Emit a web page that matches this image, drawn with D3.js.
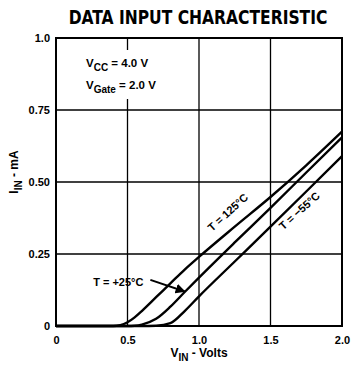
<!DOCTYPE html>
<html><head><meta charset="utf-8">
<script src="https://cdn.jsdelivr.net/npm/d3@7"></script>
<style>body{margin:0;background:#fff}svg{display:block}</style>
</head><body>
<script>
const title = "DATA INPUT CHARACTERISTIC";
const xTicks = [0, 0.5, 1.0, 1.5, 2.0];
const xTickLabels = ["0", "0.5", "1.0", "1.5", "2.0"];
const yTicks = [0, 0.25, 0.5, 0.75, 1.0];
const yTickLabels = ["0", "0.25", "0.50", "0.75", "1.0"];
const vin = [0, 0.4, 0.45, 0.5, 0.55, 0.6, 0.7, 0.8, 0.9, 1.0, 1.25, 1.5, 1.75, 2.0];
const i125 = [0, 0, 0.003, 0.013, 0.03, 0.052, 0.1, 0.148, 0.196, 0.24, 0.345, 0.448, 0.558, 0.675];
const i25 = [0, 0, 0, 0, 0.001, 0.005, 0.025, 0.067, 0.118, 0.168, 0.29, 0.41, 0.533, 0.655];
const im55 = [0, 0, 0, 0, 0, 0, 0.001, 0.01, 0.052, 0.103, 0.224, 0.345, 0.467, 0.59];

const W = 352, H = 371;
const svg = d3.select("body").append("svg").attr("width", W).attr("height", H);
const x = d3.scaleLinear().domain([0, 2]).range([56, 342]);
const y = d3.scaleLinear().domain([0, 1]).range([326, 38]);
const font = "'Liberation Sans', Arial, sans-serif";

// title (condensed by horizontal scale to fit the reference width)
const tt = svg.append("text").attr("text-anchor", "middle")
  .attr("font-family", "'DejaVu Sans Condensed', 'Liberation Sans Narrow', sans-serif")
  .attr("font-weight", "bold").attr("font-size", 19.5)
  .text(title);
const nat = tt.node().getComputedTextLength();
tt.attr("transform", `translate(198,24) scale(${259 / nat},1)`);

// grid
const g = svg.append("g");
xTicks.slice(1, -1).forEach(v => {
  if (v === 0.5) {
    g.append("line").attr("x1", x(v)).attr("x2", x(v)).attr("y1", y(1)).attr("y2", 50).attr("stroke", "#000").attr("stroke-width", 1.3);
    g.append("line").attr("x1", x(v)).attr("x2", x(v)).attr("y1", 99).attr("y2", y(0)).attr("stroke", "#000").attr("stroke-width", 1.3);
  } else {
    g.append("line").attr("x1", x(v)).attr("x2", x(v)).attr("y1", y(1)).attr("y2", y(0)).attr("stroke", "#000").attr("stroke-width", 1.3);
  }
});
yTicks.slice(1, -1).forEach(v => {
  g.append("line").attr("x1", x(0)).attr("x2", x(2)).attr("y1", y(v)).attr("y2", y(v)).attr("stroke", "#000").attr("stroke-width", 1.3);
});
g.append("rect").attr("x", x(0)).attr("y", y(1)).attr("width", x(2) - x(0)).attr("height", y(0) - y(1))
  .attr("fill", "none").attr("stroke", "#000").attr("stroke-width", 2);

// axes tick labels
const xAxis = d3.axisBottom(x).tickValues(xTicks).tickSize(0).tickPadding(10)
  .tickFormat((d, i) => xTickLabels[i]);
const xa = svg.append("g").attr("transform", `translate(0,${y(0)})`).call(xAxis);
xa.select(".domain").remove();
xa.selectAll("text").attr("font-family", font).attr("font-weight", "bold").attr("font-size", 11).attr("fill", "#000");

const yAxis = d3.axisLeft(y).tickValues(yTicks).tickSize(0).tickPadding(6)
  .tickFormat((d, i) => yTickLabels[i]);
const ya = svg.append("g").attr("transform", `translate(${x(0)},0)`).call(yAxis);
ya.select(".domain").remove();
ya.selectAll("text").attr("font-family", font).attr("font-weight", "bold").attr("font-size", 11).attr("fill", "#000");

// curves
const line = d3.line().x(d => x(d[0])).y(d => y(d[1])).curve(d3.curveMonotoneX);
[i125, i25, im55].forEach(s => {
  svg.append("path").attr("d", line(vin.map((v, i) => [v, s[i]])))
    .attr("fill", "none").attr("stroke", "#000").attr("stroke-width", 2.4);
});

// annotations
function sub(t, main, subTxt, rest) {
  t.append("tspan").text(main);
  t.append("tspan").attr("dy", 4).attr("font-size", 10).text(subTxt);
  t.append("tspan").attr("dy", -4).text(rest);
}
const t1 = svg.append("text").attr("x", 86).attr("y", 67).attr("font-family", font).attr("font-weight", "bold").attr("font-size", 11.5);
sub(t1, "V", "CC", " = 4.0 V");
const t2 = svg.append("text").attr("x", 86).attr("y", 89).attr("font-family", font).attr("font-weight", "bold").attr("font-size", 11.5);
sub(t2, "V", "Gate", " = 2.0 V");

const ang = -Math.atan((y(0) - y(0.45)) / (x(1) - x(0))) * 180 / Math.PI;
svg.append("text").attr("transform", `translate(${x(1.22)},${y(0.385)}) rotate(${ang})`)
  .attr("text-anchor", "middle").attr("font-family", font).attr("font-size", 11).attr("font-weight", "bold")
  .text("T = 125°C");
svg.append("text").attr("transform", `translate(${x(1.72)},${y(0.39)}) rotate(${ang})`)
  .attr("text-anchor", "middle").attr("font-family", font).attr("font-size", 11).attr("font-weight", "bold")
  .text("T = −55°C");
svg.append("text").attr("x", x(0.26)).attr("y", y(0.14)).attr("font-family", font).attr("font-size", 11).attr("font-weight", "bold")
  .text("T = +25°C");
// arrow
svg.append("defs").append("marker").attr("id", "ah").attr("viewBox", "0 0 10 10").attr("refX", 9).attr("refY", 5)
  .attr("markerWidth", 5).attr("markerHeight", 5).attr("orient", "auto")
  .append("path").attr("d", "M0,0L10,5L0,10z").attr("fill", "#000");
svg.append("line").attr("x1", x(0.66)).attr("y1", y(0.16)).attr("x2", x(0.9)).attr("y2", y(0.12))
  .attr("stroke", "#000").attr("stroke-width", 2).attr("marker-end", "url(#ah)");

// axis titles
const xt = svg.append("text").attr("x", 199).attr("y", 357).attr("text-anchor", "middle")
  .attr("font-family", font).attr("font-weight", "bold").attr("font-size", 12);
sub(xt, "V", "IN", " - Volts");
const yt = svg.append("text").attr("transform", "translate(18,172) rotate(-90)").attr("text-anchor", "middle")
  .attr("font-family", font).attr("font-weight", "bold").attr("font-size", 12);
sub(yt, "I", "IN", " - mA");
</script>
</body></html>
